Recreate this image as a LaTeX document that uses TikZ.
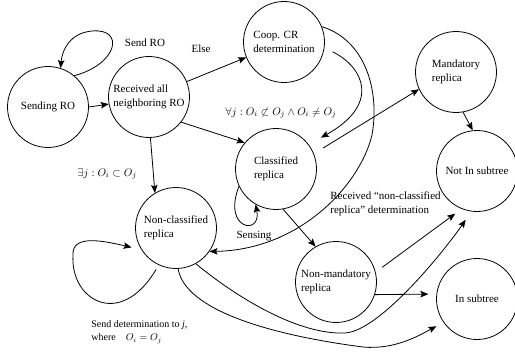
\documentclass[tikz,border=0pt]{standalone}
\usepackage{fontspec}
\setmainfont{Liberation Serif}
\usetikzlibrary{arrows.meta}
\tikzset{every path/.style={black, line width=0.8pt},
         >={Stealth[length=8pt,width=6.5pt,inset=1.5pt]},
         phase/.style={draw, circle, minimum size=81pt, inner sep=0pt, align=left, font=\fontsize{11}{14}\selectfont},
         lbl/.style={inner sep=0pt, font=\fontsize{11}{14}\selectfont}}
\begin{document}
\begin{tikzpicture}[x=1pt,y=-1pt]
   \useasboundingbox (0,0) rectangle (515,353);
   % states
   \node[phase] (snd)  at ( 48,107) {Sending RO};
   \node[phase] (rcv)  at (149, 97) {Received all\\neighboring RO};
   \node[phase] (coop) at (284, 42) {Coop. CR\\determination};
   \node[phase] (cls)  at (276,169) {Classified\\replica};
   \node[phase] (man)  at (456, 72) {Mandatory\\replica};
   \node[phase] (nis)  at (477,171) {Not In subtree};
   \node[phase] (ncl)  at (176,228) {Non-classified\\replica};
   \node[phase] (nmn)  at (336,282) {Non-mandatory\\replica};
   \node[phase] (ins)  at (477,299) {In subtree};
   % transitions
   \draw[->] (snd.50) .. controls (118,64) and (125,28) .. (92,31)
                      .. controls (70,33) and (62,50) .. (snd.72);
   \draw[->] (snd.east) -- (rcv.190);
   \draw[->] (rcv) -- (coop);
   \draw[->] (rcv.-38) -- (cls.140);
   \draw[->] (rcv.-88) -- (ncl.121);
   \draw[->,shorten <=9pt,shorten >=14pt] (coop.-8) .. controls (365,68) and (380,105) .. (cls.37);
   \draw[->] (coop.22) .. controls (365,40) and (380,90) .. (372,135)
                       .. controls (360,185) and (300,250) .. (ncl.-35);
   \draw[->,shorten <=11pt] (cls.22) -- (man.205);
   \draw[->] (cls.205) .. controls (222,230) and (262,236) .. (cls.240);
   \draw[->] (cls.-80) -- (nmn.120);
   \draw[->] (man.-80) -- (nis.96);
   \draw[->,shorten <=8pt,shorten >=8pt] (nmn.14) -- (nis.-112);
   \draw[->,shorten >=8pt] (nmn.-18) -- (ins.173);
   \draw[->,shorten >=10pt] (ncl.-61) .. controls (240,300) and (300,335) .. (345,333)
                                      .. controls (380,331) and (445,250) .. (nis.-98);
   \draw[->,shorten >=8pt] (ncl.-87) .. controls (185,310) and (270,335) .. (363,347)
                                     .. controls (395,350) and (420,335) .. (ins.215);
   \draw[->,shorten <=5pt,shorten >=10pt] (ncl.245) .. controls (120,330) and (70,300) .. (73,255)
                                                    .. controls (72,235) and (100,240) .. (ncl.212);
   % labels
   \node[lbl] (sendro) at (145, 43) {Send RO};
   \node[lbl] (other)  at (201, 49) {Else};
   \node[lbl] (forall) at (281,113) {$\forall j : O_i \not\subset O_j \wedge O_i \neq O_j$};
   \node[lbl] (exists) at (107,174) {$\exists j : O_i \subset O_j$};
   \node[lbl,anchor=west,align=left] (rcvd) at (330,204) {Received ``non-classified\\replica'' determination};
   \node[lbl] (sense)  at (254,236) {Sensing};
   \node[lbl,anchor=west,align=left,font=\fontsize{10}{13}\selectfont] (sdet) at (91,332)
        {Send determination to \textit{j},\\where\quad $O_i = O_j$};
\end{tikzpicture}
\end{document}
